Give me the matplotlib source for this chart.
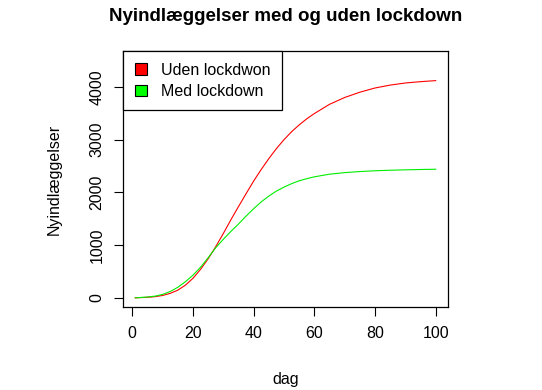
import numpy as np
import matplotlib.pyplot as plt
from matplotlib.patches import Patch

plt.rcParams['font.family'] = ['Liberation Sans', 'DejaVu Sans']

# -----------------------------
# Data
# -----------------------------
dag = [1, 5, 7.5, 10, 12.5, 15, 17.5, 20, 22.5, 25, 27.5, 30, 32.5, 35,
       37.5, 40, 42.5, 45, 47.5, 50, 52.5, 55, 57.5, 60,
       65, 70, 75, 80, 85, 90, 95, 100]

uden_lockdown = [0, 10, 22, 45, 85, 145, 240, 370, 540, 740, 970, 1220, 1480, 1730,
                 1975, 2215, 2435, 2640, 2830, 3000, 3150, 3280, 3395, 3495,
                 3670, 3800, 3900, 3980, 4035, 4075, 4100, 4120]

med_lockdown = [0, 15, 32, 65, 120, 200, 305, 430, 580, 760, 950, 1110, 1260, 1400,
                1550, 1690, 1820, 1930, 2025, 2100, 2165, 2220, 2260, 2295,
                2345, 2375, 2395, 2410, 2420, 2428, 2434, 2439]

x_ticks = [0, 20, 40, 60, 80, 100]
y_ticks = [0, 1000, 2000, 3000, 4000]

# -----------------------------
# Plot
# -----------------------------
fig = plt.figure(figsize=(5.42, 3.9), dpi=100)
ax = fig.add_axes([0.2275, 0.212, 0.5985, 0.657])

ax.plot(dag, uden_lockdown, color='#FF0000', linewidth=0.8)
ax.plot(dag, med_lockdown, color='#00EE00', linewidth=0.8)

ax.set_xlim(-2.96, 103.96)
ax.set_ylim(-180, 4680)

ax.set_xticks(x_ticks)
ax.set_yticks(y_ticks)
ax.tick_params(direction='out', length=6.5, width=0.8, labelsize=11.5, pad=7)
plt.setp(ax.get_yticklabels(), rotation=90, va='center')

for s in ax.spines.values():
    s.set_linewidth(0.9)

ax.set_xlabel("dag", fontsize=11.5, labelpad=22)
ax.set_ylabel("Nyindlæggelser", fontsize=11.5, labelpad=20)
ax.set_title("Nyindlæggelser med og uden lockdown",
             fontsize=13.5, fontweight='bold', pad=22)

handles = [
    Patch(facecolor='#FF0000', edgecolor='black', linewidth=0.8, label='Uden lockdwon'),
    Patch(facecolor='#00FF00', edgecolor='black', linewidth=0.8, label='Med lockdown'),
]
leg = ax.legend(handles=handles, loc='upper left', borderaxespad=0,
                fontsize=11.5, fancybox=False, framealpha=1,
                edgecolor='black', handlelength=0.75, handleheight=0.75,
                handletextpad=0.9, borderpad=0.72, labelspacing=0.4)
leg.get_frame().set_linewidth(0.9)

fig.savefig("out.png", dpi=100)
